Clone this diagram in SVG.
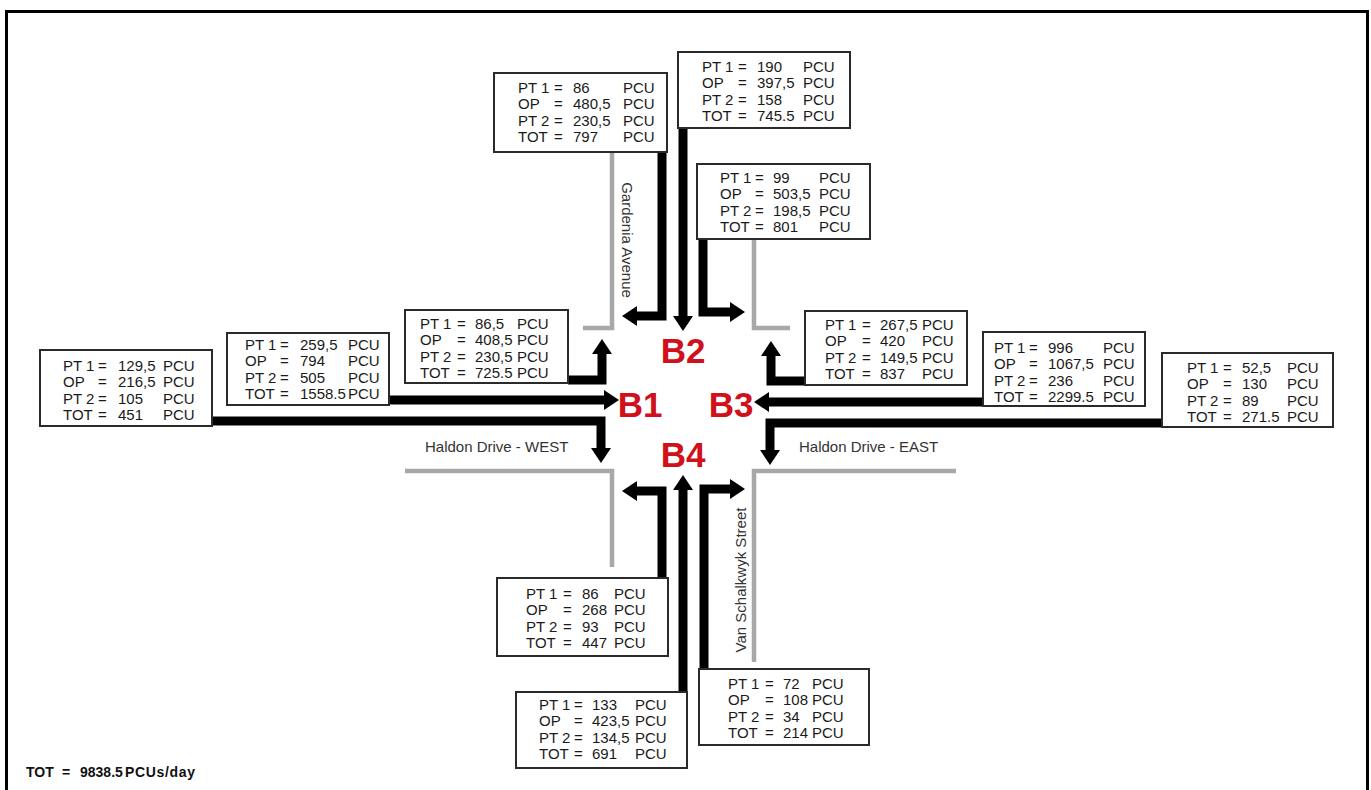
<svg xmlns="http://www.w3.org/2000/svg" width="1371" height="790" viewBox="0 0 1371 790">
  <defs>
    <style>
      .box rect { fill: #fff; stroke: #2a2a2a; stroke-width: 2; }
      .box text { font-family: "Liberation Sans", Arial, sans-serif; font-size: 15px; fill: #1a1a1a; }
      .road { fill: none; stroke: #a8a8a8; stroke-width: 4.5; stroke-linejoin: miter; }
      .road-label { font-family: "Liberation Sans", Arial, sans-serif; font-size: 15px; fill: #333; }
      .flow { fill: none; stroke: #000; stroke-width: 9; stroke-linejoin: miter; marker-end: url(#ah); }
      .approach { font-family: "Liberation Sans", Arial, sans-serif; font-weight: bold; font-size: 35px; fill: #d0101a; text-anchor: middle; }
      .total { font-family: "Liberation Sans", Arial, sans-serif; font-weight: bold; font-size: 14px; fill: #111; }
    </style>
    <marker id="ah" markerUnits="userSpaceOnUse" markerWidth="15" markerHeight="20" refX="1" refY="10" orient="auto">
      <path d="M0,0 L15,10 L0,20 Z" fill="#000"/>
    </marker>
  </defs>

  <!-- page frame -->
  <rect x="6.5" y="11.5" width="1361" height="800" fill="#fff" stroke="#000" stroke-width="3"/>

  <!-- road edges -->
  <g id="roads">
    <path class="road" d="M612,152 V328 H583"/>
    <path class="road" d="M754,239 V328 H790"/>
    <path class="road" d="M405,471 H612 V567"/>
    <path class="road" d="M956,471 H754 V662"/>
  </g>

  <!-- street names -->
  <g id="street-names">
    <text class="road-label" transform="translate(622,240) rotate(90)" text-anchor="middle">Gardenia Avenue</text>
    <text class="road-label" x="425" y="452">Haldon Drive - WEST</text>
    <text class="road-label" x="799" y="452">Haldon Drive - EAST</text>
    <text class="road-label" transform="translate(745.5,580) rotate(-90)" text-anchor="middle">Van Schalkwyk Street</text>
  </g>

  <!-- turning movement arrows -->
  <g id="connectors">
    <path class="flow" d="M662,152 V316 H636"/>
    <path class="flow" d="M683,128 V317"/>
    <path class="flow" d="M703,239 V312 H731"/>
    <path class="flow" d="M805,381 H771 V355"/>
    <path class="flow" d="M983,402 H768"/>
    <path class="flow" d="M1162,423 H770 V451"/>
    <path class="flow" d="M568,380 H602 V353"/>
    <path class="flow" d="M389,400 H605"/>
    <path class="flow" d="M212,421 H601 V449"/>
    <path class="flow" d="M662,578 V491 H636"/>
    <path class="flow" d="M683,692 V489"/>
    <path class="flow" d="M704,669 V489 H731"/>
  </g>

  <!-- approach labels -->
  <g id="approaches">
    <text id="B1" class="approach" x="640" y="417">B1</text>
    <text id="B2" class="approach" x="683" y="363">B2</text>
    <text id="B3" class="approach" x="731" y="417">B3</text>
    <text id="B4" class="approach" x="683" y="467">B4</text>
  </g>

  <!-- count boxes -->
  <g id="box-b2-left" class="box" transform="translate(518,93)">
    <rect x="-24" y="-20" width="173" height="79"/>
    <text y="0"><tspan x="0">PT 1</tspan><tspan x="36">=</tspan><tspan x="55">86</tspan><tspan x="105">PCU</tspan></text>
    <text y="16.4"><tspan x="0">OP</tspan><tspan x="36">=</tspan><tspan x="55">480,5</tspan><tspan x="105">PCU</tspan></text>
    <text y="32.8"><tspan x="0">PT 2</tspan><tspan x="36">=</tspan><tspan x="55">230,5</tspan><tspan x="105">PCU</tspan></text>
    <text y="49.2"><tspan x="0">TOT</tspan><tspan x="36">=</tspan><tspan x="55">797</tspan><tspan x="105">PCU</tspan></text>
  </g>

  <g id="box-b2-through" class="box" transform="translate(702,72)">
    <rect x="-24" y="-20" width="172" height="76"/>
    <text y="0"><tspan x="0">PT 1</tspan><tspan x="36">=</tspan><tspan x="55">190</tspan><tspan x="101">PCU</tspan></text>
    <text y="16.4"><tspan x="0">OP</tspan><tspan x="36">=</tspan><tspan x="55">397,5</tspan><tspan x="101">PCU</tspan></text>
    <text y="32.8"><tspan x="0">PT 2</tspan><tspan x="36">=</tspan><tspan x="55">158</tspan><tspan x="101">PCU</tspan></text>
    <text y="49.2"><tspan x="0">TOT</tspan><tspan x="36">=</tspan><tspan x="55">745.5</tspan><tspan x="101">PCU</tspan></text>
  </g>

  <g id="box-b2-right" class="box" transform="translate(720,183)">
    <rect x="-23" y="-19" width="173" height="75"/>
    <text y="0"><tspan x="0">PT 1</tspan><tspan x="35">=</tspan><tspan x="53">99</tspan><tspan x="99">PCU</tspan></text>
    <text y="16.4"><tspan x="0">OP</tspan><tspan x="35">=</tspan><tspan x="53">503,5</tspan><tspan x="99">PCU</tspan></text>
    <text y="32.8"><tspan x="0">PT 2</tspan><tspan x="35">=</tspan><tspan x="53">198,5</tspan><tspan x="99">PCU</tspan></text>
    <text y="49.2"><tspan x="0">TOT</tspan><tspan x="35">=</tspan><tspan x="53">801</tspan><tspan x="99">PCU</tspan></text>
  </g>

  <g id="box-b3-right" class="box" transform="translate(825,330)">
    <rect x="-20" y="-19" width="162" height="74"/>
    <text y="0"><tspan x="0">PT 1</tspan><tspan x="37">=</tspan><tspan x="55">267,5</tspan><tspan x="97">PCU</tspan></text>
    <text y="16.4"><tspan x="0">OP</tspan><tspan x="37">=</tspan><tspan x="55">420</tspan><tspan x="97">PCU</tspan></text>
    <text y="32.8"><tspan x="0">PT 2</tspan><tspan x="37">=</tspan><tspan x="55">149,5</tspan><tspan x="97">PCU</tspan></text>
    <text y="49.2"><tspan x="0">TOT</tspan><tspan x="37">=</tspan><tspan x="55">837</tspan><tspan x="97">PCU</tspan></text>
  </g>

  <g id="box-b3-through" class="box" transform="translate(994,353)">
    <rect x="-11" y="-21" width="162" height="74"/>
    <text y="0"><tspan x="0">PT 1</tspan><tspan x="35">=</tspan><tspan x="54">996</tspan><tspan x="109">PCU</tspan></text>
    <text y="16.4"><tspan x="0">OP</tspan><tspan x="35">=</tspan><tspan x="54">1067,5</tspan><tspan x="109">PCU</tspan></text>
    <text y="32.8"><tspan x="0">PT 2</tspan><tspan x="35">=</tspan><tspan x="54">236</tspan><tspan x="109">PCU</tspan></text>
    <text y="49.2"><tspan x="0">TOT</tspan><tspan x="35">=</tspan><tspan x="54">2299.5</tspan><tspan x="109">PCU</tspan></text>
  </g>

  <g id="box-b3-left" class="box" transform="translate(1187,373)">
    <rect x="-25" y="-20" width="171" height="74"/>
    <text y="0"><tspan x="0">PT 1</tspan><tspan x="36">=</tspan><tspan x="55">52,5</tspan><tspan x="100">PCU</tspan></text>
    <text y="16.4"><tspan x="0">OP</tspan><tspan x="36">=</tspan><tspan x="55">130</tspan><tspan x="100">PCU</tspan></text>
    <text y="32.8"><tspan x="0">PT 2</tspan><tspan x="36">=</tspan><tspan x="55">89</tspan><tspan x="100">PCU</tspan></text>
    <text y="49.2"><tspan x="0">TOT</tspan><tspan x="36">=</tspan><tspan x="55">271.5</tspan><tspan x="100">PCU</tspan></text>
  </g>

  <g id="box-b1-left" class="box" transform="translate(420,329)">
    <rect x="-15" y="-19" width="163" height="73"/>
    <text y="0"><tspan x="0">PT 1</tspan><tspan x="37">=</tspan><tspan x="55">86,5</tspan><tspan x="97">PCU</tspan></text>
    <text y="16.4"><tspan x="0">OP</tspan><tspan x="37">=</tspan><tspan x="55">408,5</tspan><tspan x="97">PCU</tspan></text>
    <text y="32.8"><tspan x="0">PT 2</tspan><tspan x="37">=</tspan><tspan x="55">230,5</tspan><tspan x="97">PCU</tspan></text>
    <text y="49.2"><tspan x="0">TOT</tspan><tspan x="37">=</tspan><tspan x="55">725.5</tspan><tspan x="97">PCU</tspan></text>
  </g>

  <g id="box-b1-through" class="box" transform="translate(245,350)">
    <rect x="-18" y="-17" width="162" height="72"/>
    <text y="0"><tspan x="0">PT 1</tspan><tspan x="35">=</tspan><tspan x="55">259,5</tspan><tspan x="103">PCU</tspan></text>
    <text y="16.4"><tspan x="0">OP</tspan><tspan x="35">=</tspan><tspan x="55">794</tspan><tspan x="103">PCU</tspan></text>
    <text y="32.8"><tspan x="0">PT 2</tspan><tspan x="35">=</tspan><tspan x="55">505</tspan><tspan x="103">PCU</tspan></text>
    <text y="49.2"><tspan x="0">TOT</tspan><tspan x="35">=</tspan><tspan x="55">1558.5</tspan><tspan x="103">PCU</tspan></text>
  </g>

  <g id="box-b1-right" class="box" transform="translate(63,371)">
    <rect x="-23" y="-21" width="172" height="76"/>
    <text y="0"><tspan x="0">PT 1</tspan><tspan x="35">=</tspan><tspan x="55">129,5</tspan><tspan x="100">PCU</tspan></text>
    <text y="16.4"><tspan x="0">OP</tspan><tspan x="35">=</tspan><tspan x="55">216,5</tspan><tspan x="100">PCU</tspan></text>
    <text y="32.8"><tspan x="0">PT 2</tspan><tspan x="35">=</tspan><tspan x="55">105</tspan><tspan x="100">PCU</tspan></text>
    <text y="49.2"><tspan x="0">TOT</tspan><tspan x="35">=</tspan><tspan x="55">451</tspan><tspan x="100">PCU</tspan></text>
  </g>

  <g id="box-b4-right" class="box" transform="translate(526,599)">
    <rect x="-29" y="-21" width="171" height="78"/>
    <text y="0"><tspan x="0">PT 1</tspan><tspan x="37">=</tspan><tspan x="56">86</tspan><tspan x="88">PCU</tspan></text>
    <text y="16.4"><tspan x="0">OP</tspan><tspan x="37">=</tspan><tspan x="56">268</tspan><tspan x="88">PCU</tspan></text>
    <text y="32.8"><tspan x="0">PT 2</tspan><tspan x="37">=</tspan><tspan x="56">93</tspan><tspan x="88">PCU</tspan></text>
    <text y="49.2"><tspan x="0">TOT</tspan><tspan x="37">=</tspan><tspan x="56">447</tspan><tspan x="88">PCU</tspan></text>
  </g>

  <g id="box-b4-through" class="box" transform="translate(539,710)">
    <rect x="-23" y="-18" width="171" height="76"/>
    <text y="0"><tspan x="0">PT 1</tspan><tspan x="35">=</tspan><tspan x="53">133</tspan><tspan x="96">PCU</tspan></text>
    <text y="16.4"><tspan x="0">OP</tspan><tspan x="35">=</tspan><tspan x="53">423,5</tspan><tspan x="96">PCU</tspan></text>
    <text y="32.8"><tspan x="0">PT 2</tspan><tspan x="35">=</tspan><tspan x="53">134,5</tspan><tspan x="96">PCU</tspan></text>
    <text y="49.2"><tspan x="0">TOT</tspan><tspan x="35">=</tspan><tspan x="53">691</tspan><tspan x="96">PCU</tspan></text>
  </g>

  <g id="box-b4-left" class="box" transform="translate(728,689)">
    <rect x="-29" y="-20" width="170" height="76"/>
    <text y="0"><tspan x="0">PT 1</tspan><tspan x="37">=</tspan><tspan x="55">72</tspan><tspan x="84">PCU</tspan></text>
    <text y="16.4"><tspan x="0">OP</tspan><tspan x="37">=</tspan><tspan x="55">108</tspan><tspan x="84">PCU</tspan></text>
    <text y="32.8"><tspan x="0">PT 2</tspan><tspan x="37">=</tspan><tspan x="55">34</tspan><tspan x="84">PCU</tspan></text>
    <text y="49.2"><tspan x="0">TOT</tspan><tspan x="37">=</tspan><tspan x="55">214</tspan><tspan x="84">PCU</tspan></text>
  </g>

  <!-- grand total -->
  <g id="grand-total">
    <text class="total" y="777"><tspan x="26">TOT</tspan><tspan x="62">=</tspan><tspan x="80">9838.5</tspan><tspan x="125" textLength="70">PCUs/day</tspan></text>
  </g>
</svg>
